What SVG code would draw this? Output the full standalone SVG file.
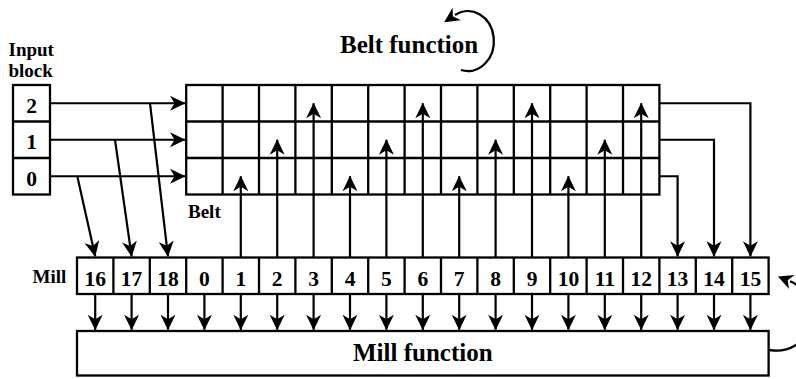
<svg xmlns="http://www.w3.org/2000/svg" width="796" height="379" viewBox="0 0 796 379">
<style>
.box{fill:#fff;stroke:#000;stroke-width:2.3}
.ln{fill:none;stroke:#000;stroke-width:2.3}
.c{stroke:#000;stroke-width:2.2;fill:none;marker-end:url(#ah)}
text{font-family:"Liberation Serif","Times New Roman",serif;font-weight:bold;fill:#000}
.num{font-size:21.5px;text-anchor:middle}
.lbl{font-size:19px}
.big{font-size:25px}
</style>
<defs>
<marker id="ah" viewBox="-16 -9 18 18" refX="0" refY="0" markerWidth="18" markerHeight="18" orient="auto" markerUnits="userSpaceOnUse"><path d="M0.5,0 L-15,-7.5 L-10.5,0 L-15,7.5 Z" fill="#000"/></marker>
<marker id="ahc" viewBox="-3 -9 18 18" refX="0" refY="0" markerWidth="18" markerHeight="18" orient="auto-start-reverse" markerUnits="userSpaceOnUse"><path d="M13,0 L-2,-7.5 L2.5,0 L-2,7.5 Z" fill="#000"/></marker>
</defs>
<rect width="796" height="379" fill="#fff"/>

<g id="input-block">
<text class="lbl" x="8.5" y="56">Input</text>
<text class="lbl" x="8.5" y="77">block</text>
<rect class="box" x="13" y="85" width="37" height="109.5"/>
<line class="ln" x1="13" y1="121.5" x2="50" y2="121.5"/>
<line class="ln" x1="13" y1="158" x2="50" y2="158"/>
<text class="num" x="31.5" y="112.7">2</text>
<text class="num" x="31.5" y="149.2">1</text>
<text class="num" x="31.5" y="185.7">0</text>
</g>

<g id="belt">
<rect class="box" x="186.2" y="85" width="473.2" height="109.5"/>
<path class="ln" d="M186.2,121.5H659.4M186.2,158H659.4M222.6,85V194.5M259,85V194.5M295.4,85V194.5M331.8,85V194.5M368.2,85V194.5M404.6,85V194.5M441,85V194.5M477.4,85V194.5M513.8,85V194.5M550.2,85V194.5M586.6,85V194.5M623,85V194.5"/>
<text class="lbl" x="188" y="218.3">Belt</text>
</g>

<g id="belt-function">
<text class="big" x="340" y="52.7">Belt function</text>
<path class="ln" d="M455,15 A26,30 0 1 1 461,70" marker-start="url(#ahc)"/>
</g>

<g id="mill">
<text class="lbl" x="32.5" y="282.7">Mill</text>
<rect class="box" x="77" y="257.5" width="691.6" height="36.5"/>
<path class="ln" d="M113.4,257.5V294M149.8,257.5V294M186.2,257.5V294M222.6,257.5V294M259,257.5V294M295.4,257.5V294M331.8,257.5V294M368.2,257.5V294M404.6,257.5V294M441,257.5V294M477.4,257.5V294M513.8,257.5V294M550.2,257.5V294M586.6,257.5V294M623,257.5V294M659.4,257.5V294M695.8,257.5V294M732.2,257.5V294"/>
<text class="num" x="95.2" y="286">16</text>
<text class="num" x="131.6" y="286">17</text>
<text class="num" x="168" y="286">18</text>
<text class="num" x="204.4" y="286">0</text>
<text class="num" x="240.8" y="286">1</text>
<text class="num" x="277.2" y="286">2</text>
<text class="num" x="313.6" y="286">3</text>
<text class="num" x="350" y="286">4</text>
<text class="num" x="386.4" y="286">5</text>
<text class="num" x="422.8" y="286">6</text>
<text class="num" x="459.2" y="286">7</text>
<text class="num" x="495.6" y="286">8</text>
<text class="num" x="532" y="286">9</text>
<text class="num" x="568.4" y="286">10</text>
<text class="num" x="604.8" y="286">11</text>
<text class="num" x="641.2" y="286">12</text>
<text class="num" x="677.6" y="286">13</text>
<text class="num" x="714" y="286">14</text>
<text class="num" x="750.4" y="286">15</text>
</g>

<g id="mill-function">
<rect class="box" x="77" y="331" width="691.6" height="44.5"/>
<text class="big" x="422.8" y="360.7" text-anchor="middle">Mill function</text>
<path class="ln" d="M769.6,350 A36,36 0 0 0 790,281.3" marker-end="url(#ahc)"/>
</g>

<g id="connectors">
<path class="c" d="M50,103.25H185"/>
<path class="c" d="M50,139.75H185"/>
<path class="c" d="M50,176.25H185"/>
<path class="c" d="M77.3,176.25L95.2,256.3"/>
<path class="c" d="M115,139.75L131.6,256.3"/>
<path class="c" d="M150,103.25L168,256.3"/>
<path class="c" d="M240.8,257.5V176.25"/>
<path class="c" d="M277.2,257.5V139.75"/>
<path class="c" d="M313.6,257.5V103.25"/>
<path class="c" d="M350,257.5V176.25"/>
<path class="c" d="M386.4,257.5V139.75"/>
<path class="c" d="M422.8,257.5V103.25"/>
<path class="c" d="M459.2,257.5V176.25"/>
<path class="c" d="M495.6,257.5V139.75"/>
<path class="c" d="M532,257.5V103.25"/>
<path class="c" d="M568.4,257.5V176.25"/>
<path class="c" d="M604.8,257.5V139.75"/>
<path class="c" d="M641.2,257.5V103.25"/>
<path class="c" d="M659.4,176.25H677.6V256.3"/>
<path class="c" d="M659.4,139.75H714V256.3"/>
<path class="c" d="M659.4,103.25H750.4V256.3"/>
<path class="c" d="M95.2,294V329.8"/>
<path class="c" d="M131.6,294V329.8"/>
<path class="c" d="M168,294V329.8"/>
<path class="c" d="M204.4,294V329.8"/>
<path class="c" d="M240.8,294V329.8"/>
<path class="c" d="M277.2,294V329.8"/>
<path class="c" d="M313.6,294V329.8"/>
<path class="c" d="M350,294V329.8"/>
<path class="c" d="M386.4,294V329.8"/>
<path class="c" d="M422.8,294V329.8"/>
<path class="c" d="M459.2,294V329.8"/>
<path class="c" d="M495.6,294V329.8"/>
<path class="c" d="M532,294V329.8"/>
<path class="c" d="M568.4,294V329.8"/>
<path class="c" d="M604.8,294V329.8"/>
<path class="c" d="M641.2,294V329.8"/>
<path class="c" d="M677.6,294V329.8"/>
<path class="c" d="M714,294V329.8"/>
<path class="c" d="M750.4,294V329.8"/>
</g>
</svg>
